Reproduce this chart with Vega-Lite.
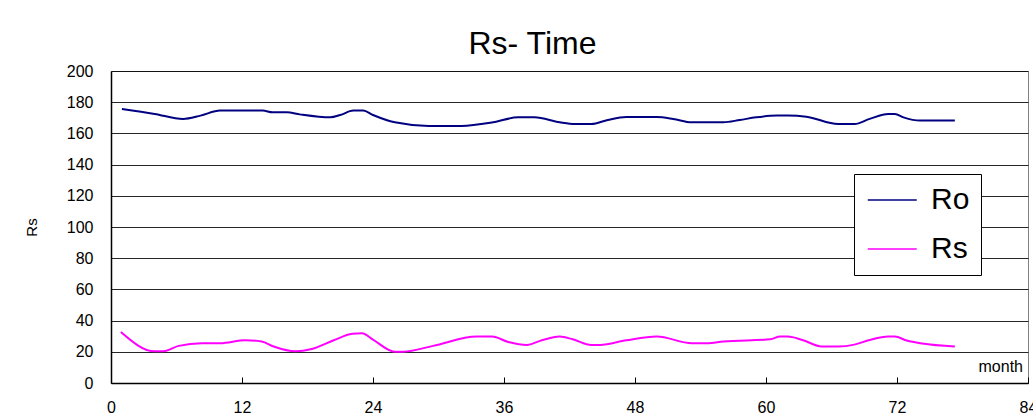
{
  "$schema": "https://vega.github.io/schema/vega-lite/v6.json",
  "width": 917,
  "height": 312,
  "autosize": {"type": "none"},
  "padding": {"left": 111, "top": 71, "right": 5, "bottom": 36},
  "background": "white",
  "title": {"text": "Rs- Time", "fontSize": 32, "font": "Liberation Sans", "fontWeight": "normal", "baseline": "alphabetic", "offset": 16, "dx": -37, "dy": 39, "color": "black"},
  "datasets": {
    "ro": [
      {"month": 1, "value": 175.7}, {"month": 4, "value": 172.5}, {"month": 6.6, "value": 169.3}, {"month": 8.2, "value": 171.4},
      {"month": 10, "value": 174.6}, {"month": 13.9, "value": 174.6}, {"month": 14.8, "value": 173.5}, {"month": 16.1, "value": 173.5},
      {"month": 17.3, "value": 172.2}, {"month": 20.1, "value": 170.3}, {"month": 21, "value": 171.8}, {"month": 22.2, "value": 174.6},
      {"month": 23.1, "value": 174.6}, {"month": 24, "value": 171.8}, {"month": 26, "value": 167.1}, {"month": 29.1, "value": 164.8},
      {"month": 32.1, "value": 164.8}, {"month": 35, "value": 167.1}, {"month": 37.3, "value": 170.3}, {"month": 38.8, "value": 170.3},
      {"month": 41.1, "value": 167.1}, {"month": 42.5, "value": 166}, {"month": 44, "value": 166}, {"month": 45.5, "value": 168.6},
      {"month": 47.2, "value": 170.5}, {"month": 50, "value": 170.5}, {"month": 51.5, "value": 169.3}, {"month": 53.2, "value": 167.1},
      {"month": 56.1, "value": 167.1}, {"month": 57.6, "value": 168.6}, {"month": 59.1, "value": 170.3}, {"month": 61, "value": 171.4},
      {"month": 62, "value": 171.4}, {"month": 63.7, "value": 170.7}, {"month": 66.6, "value": 166}, {"month": 68.1, "value": 166},
      {"month": 69.5, "value": 169.3}, {"month": 71.2, "value": 172.5}, {"month": 71.8, "value": 172.5}, {"month": 72.6, "value": 170.3},
      {"month": 74.1, "value": 168.2}, {"month": 77.3, "value": 168.2}
    ],
    "rs": [
      {"month": 0.9, "value": 32.7}, {"month": 4, "value": 20.3}, {"month": 4.8, "value": 20.3}, {"month": 6.2, "value": 23.8},
      {"month": 8.3, "value": 25.5}, {"month": 10, "value": 25.5}, {"month": 12.3, "value": 27.4}, {"month": 13.8, "value": 26.6},
      {"month": 14.9, "value": 23.4}, {"month": 16.9, "value": 20.3}, {"month": 18.4, "value": 21.8}, {"month": 20.4, "value": 27.4},
      {"month": 22.1, "value": 31.5}, {"month": 23, "value": 31.9}, {"month": 24, "value": 27.8}, {"month": 26, "value": 20.1},
      {"month": 26.8, "value": 20.1}, {"month": 29.5, "value": 23.8}, {"month": 33.5, "value": 29.8}, {"month": 34.9, "value": 29.8},
      {"month": 36.4, "value": 26.3}, {"month": 38.1, "value": 24.4}, {"month": 39.3, "value": 27}, {"month": 41.1, "value": 29.8},
      {"month": 42.3, "value": 28}, {"month": 44, "value": 24.4}, {"month": 44.8, "value": 24.4}, {"month": 47.2, "value": 27.4},
      {"month": 50, "value": 29.8}, {"month": 53.2, "value": 25.5}, {"month": 54.6, "value": 25.5}, {"month": 56.1, "value": 26.6},
      {"month": 60.4, "value": 28}, {"month": 61.3, "value": 29.8}, {"month": 62, "value": 29.8}, {"month": 63.4, "value": 27.4},
      {"month": 65.1, "value": 23.4}, {"month": 66.6, "value": 23.4}, {"month": 68.1, "value": 24.6}, {"month": 69.5, "value": 27.6},
      {"month": 71.2, "value": 29.8}, {"month": 71.8, "value": 29.8}, {"month": 72.9, "value": 27.2}, {"month": 74.3, "value": 25.3},
      {"month": 77.3, "value": 23.4}
    ]
  },
  "layer": [
    {
      "data": {"name": "ro"},
      "transform": [{"calculate": "'Ro'", "as": "series"}],
      "mark": {"type": "line", "strokeWidth": 2, "interpolate": "monotone"},
      "encoding": {
        "x": {"field": "month", "type": "quantitative"},
        "y": {"field": "value", "type": "quantitative"},
        "color": {"field": "series", "type": "nominal"}
      }
    },
    {
      "data": {"name": "rs"},
      "transform": [{"calculate": "'Rs'", "as": "series"}],
      "mark": {"type": "line", "strokeWidth": 2, "interpolate": "monotone"},
      "encoding": {
        "x": {"field": "month", "type": "quantitative"},
        "y": {"field": "value", "type": "quantitative"},
        "color": {"field": "series", "type": "nominal"}
      }
    }
  ],
  "resolve": {"scale": {"x": "shared", "y": "shared", "color": "shared"}},
  "encoding": {
    "x": {
      "field": "month", "type": "quantitative",
      "scale": {"domain": [0, 84], "nice": false, "zero": false},
      "axis": {
        "values": [0, 12, 24, 36, 48, 60, 72, 84],
        "grid": false, "domainColor": "black", "domainWidth": 1.5,
        "tickColor": "black", "tickSize": -6, "labelPadding": 22,
        "labelFont": "Liberation Sans", "labelFontSize": 16, "labelColor": "black",
        "labelFlush": false, "labelOverlap": false,
        "title": "month", "titleFont": "Liberation Sans", "titleFontSize": 16, "titleFontWeight": "normal", "titleColor": "black",
        "titleAlign": "left", "titleAnchor": "start", "titleBaseline": "alphabetic", "titleX": 867, "titleY": -12
      }
    },
    "y": {
      "field": "value", "type": "quantitative",
      "scale": {"domain": [0, 200], "nice": false},
      "axis": {
        "values": [0, 20, 40, 60, 80, 100, 120, 140, 160, 180, 200],
        "grid": true, "gridColor": "black", "gridWidth": 1, "gridOpacity": 0.85,
        "domainColor": "black", "domainWidth": 1.5, "ticks": false, "labelPadding": 18,
        "labelFont": "Liberation Sans", "labelFontSize": 16, "labelColor": "black",
        "title": "Rs", "titleFont": "Liberation Sans", "titleFontSize": 15, "titleFontWeight": "normal", "titleColor": "black", "titlePadding": 27
      }
    },
    "color": {
      "field": "series", "type": "nominal",
      "scale": {"domain": ["Ro", "Rs"], "range": ["#000080", "#FF00FF"]},
      "legend": {
        "orient": "none", "legendX": 743, "legendY": 103, "title": null,
        "fillColor": "white", "strokeColor": "black", "padding": 11,
        "symbolType": "M-1,0H3", "symbolSize": 600, "symbolStrokeWidth": 1.5,
        "labelFont": "Liberation Sans", "labelFontSize": 30, "labelColor": "black", "labelOffset": 36,
        "rowPadding": 19
      }
    }
  },
  "config": {"view": {"stroke": "#808080", "strokeWidth": 1}}
}
